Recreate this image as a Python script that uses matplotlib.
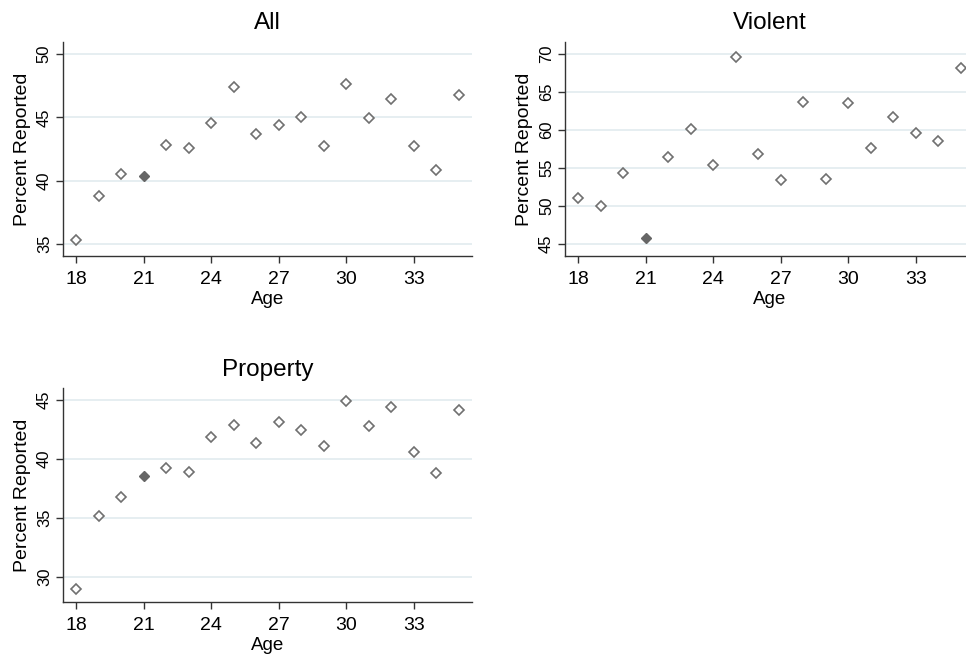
import matplotlib
matplotlib.use("Agg")
import matplotlib.pyplot as plt
import numpy as np

ages = list(range(18, 36))
all_vals = [35.34, 38.82, 40.50, 40.37, 42.82, 42.55, 44.58, 47.39, 43.68,
            44.39, 45.05, 42.76, 47.66, 44.95, 46.42, 42.74, 40.84, 46.79]
violent_vals = [51.0, 50.04, 54.39, 45.83, 56.49, 60.13, 55.39, 69.56, 56.8,
                53.42, 63.73, 53.51, 63.55, 57.68, 61.71, 59.65, 58.51, 68.11]
property_vals = [28.99, 35.19, 36.79, 38.57, 39.19, 38.88, 41.81, 42.85, 41.33,
                 43.08, 42.43, 41.05, 44.89, 42.74, 44.41, 40.55, 38.8, 44.1]
highlight_age = 21
x_ticks = [18, 21, 24, 27, 30, 33]

panels = [
    ("All", all_vals, [35, 40, 45, 50], (34.05, 50.95), [0.0652, 0.6092, 0.4234, 0.3267]),
    ("Violent", violent_vals, [45, 50, 55, 60, 65, 70], (43.42, 71.58), [0.5849, 0.6092, 0.4234, 0.3267]),
    ("Property", property_vals, [30, 35, 40, 45], (27.9, 45.99), [0.0652, 0.0814, 0.4234, 0.3262]),
]

plt.rcParams['font.family'] = ['Liberation Sans', 'DejaVu Sans']
fig = plt.figure(figsize=(9.66, 6.55), dpi=100)
fig.patch.set_facecolor('white')

mc = '#707070'
for title, vals, yt, ylim, pos in panels:
    ax = fig.add_axes(pos)
    x = np.array(ages)
    y = np.array(vals)
    mask = x == highlight_age
    ax.plot(x[~mask], y[~mask], linestyle='none', marker='D', markersize=4.6,
            markerfacecolor='white', markeredgecolor=mc, markeredgewidth=1.2, zorder=3)
    ax.plot(x[mask], y[mask], linestyle='none', marker='D', markersize=4.8,
            markerfacecolor='#666666', markeredgecolor='#666666', markeredgewidth=1.0, zorder=3)
    ax.set_xlim(17.42, 35.58)
    ax.set_ylim(*ylim)
    ax.set_xticks(x_ticks)
    ax.set_yticks(yt)
    ax.set_yticklabels([str(v) for v in yt], rotation=90, va='center')
    ax.grid(axis='y', color='#e6eef1', linewidth=1.4, zorder=0)
    ax.set_axisbelow(True)
    for s in ['top', 'right']:
        ax.spines[s].set_visible(False)
    for s in ['left', 'bottom']:
        ax.spines[s].set_color('#333333')
        ax.spines[s].set_linewidth(1.0)
    ax.tick_params(axis='x', labelsize=14, color='#333333', length=5, width=1.0, pad=6)
    ax.tick_params(axis='y', labelsize=12, color='#333333', length=5, width=1.0, pad=3)
    ax.set_xlabel('Age', fontsize=13.5, labelpad=2)
    ax.set_ylabel('Percent Reported', fontsize=14, labelpad=4)
    ax.set_title(title, fontsize=17.5, pad=9)

fig.savefig('out.png', dpi=100, facecolor='white')
